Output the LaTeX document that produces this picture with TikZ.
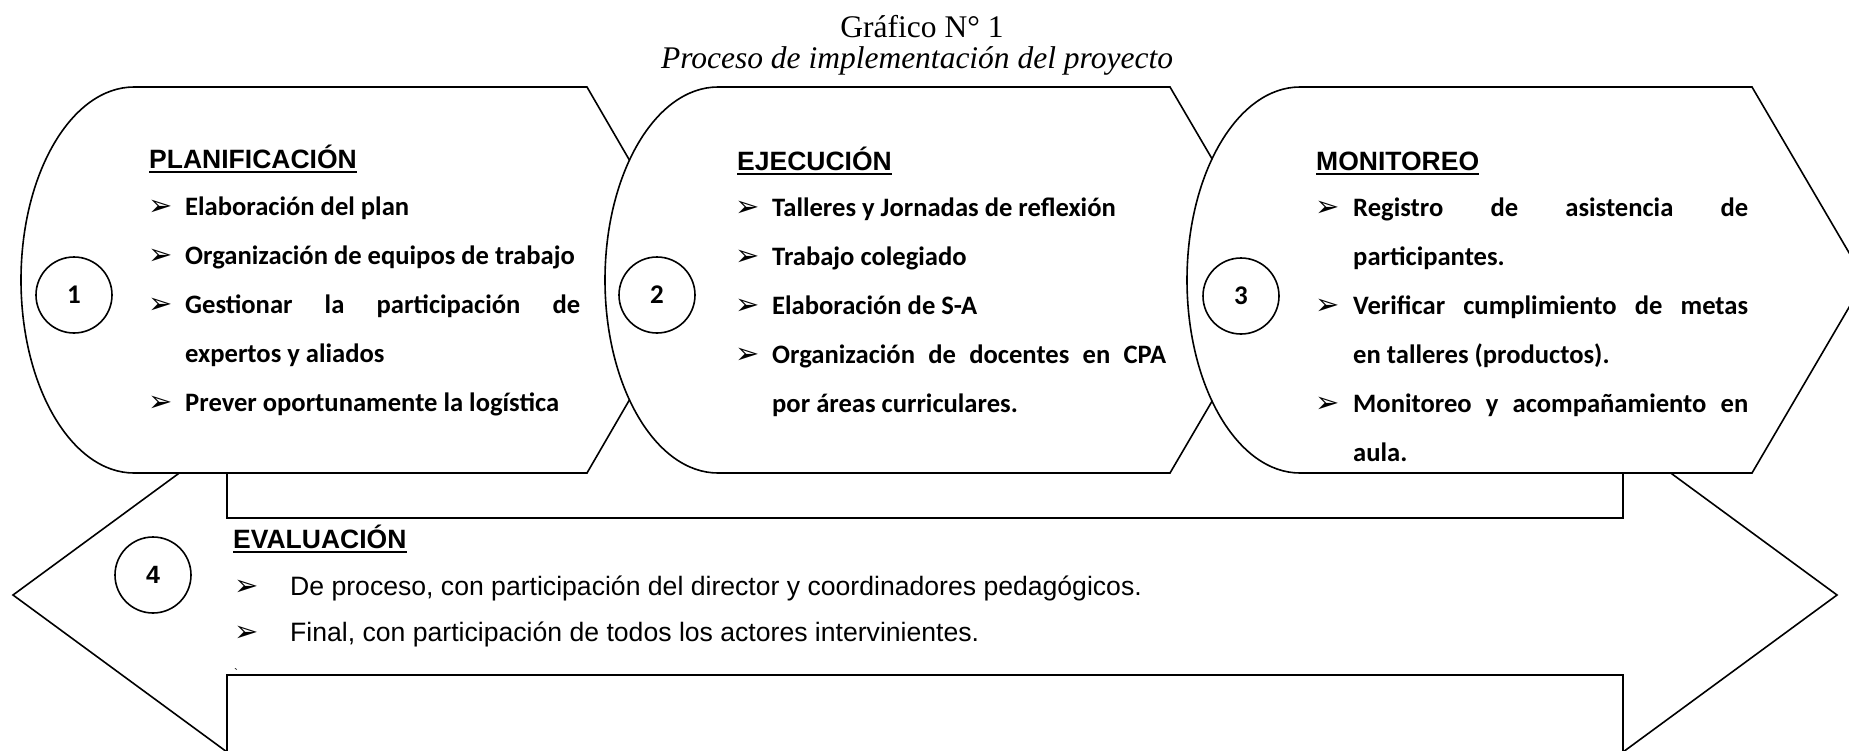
\documentclass[tikz,border=0pt]{standalone}
\usepackage{fontspec}
\setmainfont{Liberation Serif}
\newfontfamily\calib{Carlito}
\newfontfamily\arialf{Liberation Sans}
\newfontfamily\dingf{DejaVu Sans}
\newcommand{\fsz}[1]{\fontsize{#1}{#1}\selectfont}
\begin{document}
\begin{tikzpicture}[x=1pt,y=-1pt,
  shp/.style={draw=black,line width=1.6pt,fill=white,line join=miter},
  numc/.style={draw,circle,line width=1.6pt,minimum size=76pt,inner sep=0pt,fill=white},
  head/.style={anchor=base west,inner sep=0pt,font=\arialf\bfseries\fsz{26.5}},
  itm/.style={anchor=base west,inner sep=0pt,font=\calib\bfseries\fsz{26.6}},
  bul/.style={anchor=base west,inner sep=0pt,font=\dingf\bfseries\fsz{29}},
  eitm/.style={anchor=base west,inner sep=0pt,font=\arialf\fsz{26.6}},
  uline/.style={line width=1.8pt}
]
\useasboundingbox (0,0) rectangle (1849,750);
\fill[white] (0,0) rectangle (1849,750);

% title
\node[anchor=base,inner sep=0pt,font=\fsz{31.5}] (title) at (922,37) {Gráfico N° 1};
\node[anchor=base,inner sep=0pt,font=\itshape\fsz{31.5}] (subtitle) at (917,68) {Proceso de implementación del proyecto};

% big double arrow (4)
\draw[shp] (13,595) -- (227,438) -- (227,518) -- (1623,518) -- (1623,438) -- (1837,595)
  -- (1623,752) -- (1623,675) -- (227,675) -- (227,752) -- cycle;

% shape 1
\draw[shp] (134,87) -- (587,87) -- (699,280) -- (587,473) -- (134,473)
  .. controls (71.6,473) and (21,386.6) .. (21,280)
  .. controls (21,173.4) and (71.6,87) .. (134,87) -- cycle;
% shape 2
\draw[shp] (718,87) -- (1170,87) -- (1283,280) -- (1170,473) -- (718,473)
  .. controls (655.6,473) and (605,386.6) .. (605,280)
  .. controls (605,173.4) and (655.6,87) .. (718,87) -- cycle;
% shape 3
\draw[shp] (1300,87) -- (1752,87) -- (1865,280) -- (1752,473) -- (1300,473)
  .. controls (1237.6,473) and (1187,386.6) .. (1187,280)
  .. controls (1187,173.4) and (1237.6,87) .. (1300,87) -- cycle;

% number circles
\node[numc,font=\calib\bfseries\fsz{27}] (c1) at (74,295) {1};
\node[numc,font=\calib\bfseries\fsz{27}] (c2) at (657,295) {2};
\node[numc,font=\calib\bfseries\fsz{27}] (c3) at (1241,296) {3};
\node[numc,font=\arialf\bfseries\fsz{25}] (c4) at (153,575) {4};

% PLANIFICACION
\node[head] (h1) at (149,168) {PLANIFICACIÓN};
\draw[uline] ([yshift=-4pt]h1.base west) -- ([yshift=-4pt]h1.base east);
\node[bul] (b11) at (148,215) {➢};
\node[itm] (t11) at (185,215) {Elaboración del plan};
\node[bul] (b12) at (148,264) {➢};
\node[itm] (t12) at (185,264) {Organización de equipos de trabajo};
\node[bul] (b13) at (148,313) {➢};
\node[itm] (t13) at (185,313) {\makebox[395pt][s]{Gestionar la participación de}};
\node[itm] (t14) at (185,362) {expertos y aliados};
\node[bul] (b15) at (148,411) {➢};
\node[itm] (t15) at (185,411) {Prever oportunamente la logística};

% EJECUCION
\node[head] (h2) at (737,170) {EJECUCIÓN};
\draw[uline] ([yshift=-4pt]h2.base west) -- ([yshift=-4pt]h2.base east);
\node[bul] (b21) at (735,216) {➢};
\node[itm] (t21) at (772,216) {Talleres y Jornadas de reflexión};
\node[bul] (b22) at (735,265) {➢};
\node[itm] (t22) at (772,265) {Trabajo colegiado};
\node[bul] (b23) at (735,314) {➢};
\node[itm] (t23) at (772,314) {Elaboración de S-A};
\node[bul] (b24) at (735,363) {➢};
\node[itm] (t24) at (772,363) {\makebox[394pt][s]{Organización de docentes en CPA}};
\node[itm] (t25) at (772,412) {por áreas curriculares.};

% MONITOREO
\node[head] (h3) at (1316,170) {MONITOREO};
\draw[uline] ([yshift=-4pt]h3.base west) -- ([yshift=-4pt]h3.base east);
\node[bul] (b31) at (1315,216) {➢};
\node[itm] (t31) at (1353,216) {\makebox[395pt][s]{Registro de asistencia de}};
\node[itm] (t32) at (1353,265) {participantes.};
\node[bul] (b33) at (1315,314) {➢};
\node[itm] (t33) at (1353,314) {\makebox[395pt][s]{Verificar cumplimiento de metas}};
\node[itm] (t34) at (1353,363) {en talleres (productos).};
\node[bul] (b35) at (1315,412) {➢};
\node[itm] (t35) at (1353,412) {\makebox[395pt][s]{Monitoreo y acompañamiento en}};
\node[itm] (t36) at (1353,461) {aula.};

% EVALUACION
\node[head] (h4) at (233,548) {EVALUACIÓN};
\draw[uline] ([yshift=-4pt]h4.base west) -- ([yshift=-4pt]h4.base east);
\node[bul] (b41) at (234,595) {➢};
\node[eitm] (t41) at (290,595) {De proceso, con participación del director y coordinadores pedagógicos.};
\node[bul] (b42) at (234,641) {➢};
\node[eitm] (t42) at (290,641) {Final, con participación de todos los actores intervinientes.};
\node[anchor=base west,inner sep=0pt,font=\arialf\fsz{12}] (tick) at (234,677) {`};
\end{tikzpicture}
\end{document}
